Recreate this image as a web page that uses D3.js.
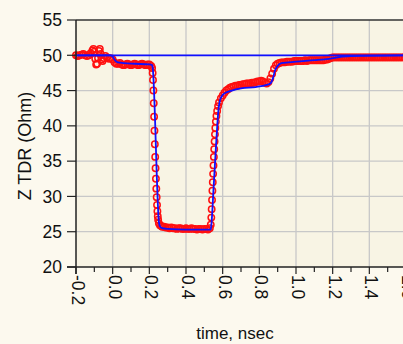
<!DOCTYPE html>
<html>
<head>
<meta charset="utf-8">
<script src="https://cdn.jsdelivr.net/npm/d3@7"></script>
<style>
  html, body { margin: 0; padding: 0; background: #fcf9ee; }
  svg { display: block; font-family: "Liberation Sans", Arial, sans-serif; }
</style>
</head>
<body>
<div id="canvas"></div>
<script>
// tick values and labels
var xTicks = [-0.2, 0.0, 0.2, 0.4, 0.6, 0.8, 1.0, 1.2, 1.4, 1.6];
var xTickLabels = ["-0.2", "0.0", "0.2", "0.4", "0.6", "0.8", "1.0", "1.2", "1.4", "1.6"];
var xMinorTicks = [-0.1, 0.1, 0.3, 0.5, 0.7, 0.9, 1.1, 1.3, 1.5];
var yTicks = [20, 25, 30, 35, 40, 45, 50, 55];
var yTickLabels = ["20", "25", "30", "35", "40", "45", "50", "55"];

// reference impedance line
var refLevel = 50;

// measured TDR (red circles): time in nsec, impedance in Ohm
var measT = [-0.20, -0.19, -0.18, -0.17, -0.16, -0.15, -0.14, -0.13, -0.12, -0.11, -0.105, -0.10, -0.095, -0.09, -0.085,
  -0.08, -0.075, -0.07, -0.065, -0.06, -0.055, -0.05, -0.04, -0.03, -0.02, -0.01, 0.00, 0.01, 0.02, 0.03,
  0.04, 0.05, 0.06, 0.07, 0.08, 0.09, 0.10, 0.11, 0.12, 0.13, 0.14, 0.15, 0.16, 0.17, 0.18,
  0.19, 0.20, 0.21, 0.215, 0.218, 0.220, 0.222, 0.224, 0.226, 0.228, 0.230, 0.232, 0.234, 0.236, 0.238,
  0.240, 0.242, 0.244, 0.246, 0.248, 0.252, 0.258, 0.265, 0.27, 0.28, 0.29, 0.30, 0.31, 0.32, 0.33,
  0.34, 0.35, 0.36, 0.37, 0.38, 0.39, 0.40, 0.41, 0.42, 0.43, 0.44, 0.45, 0.46, 0.47, 0.48,
  0.49, 0.50, 0.51, 0.52, 0.53, 0.535, 0.538, 0.540, 0.542, 0.544, 0.546, 0.548, 0.550, 0.552, 0.554,
  0.556, 0.558, 0.560, 0.563, 0.566, 0.570, 0.575, 0.58, 0.59, 0.60, 0.61, 0.62, 0.63, 0.64, 0.65,
  0.66, 0.67, 0.68, 0.69, 0.70, 0.71, 0.72, 0.73, 0.74, 0.75, 0.76, 0.77, 0.78, 0.79, 0.80,
  0.81, 0.82, 0.83, 0.84, 0.85, 0.86, 0.87, 0.88, 0.89, 0.90, 0.91, 0.92, 0.93, 0.94, 0.95,
  0.96, 0.97, 0.98, 0.99, 1.00, 1.01, 1.02, 1.03, 1.04, 1.05, 1.06, 1.07, 1.08, 1.09, 1.10,
  1.11, 1.12, 1.13, 1.14, 1.15, 1.16, 1.17, 1.18, 1.19, 1.20, 1.21, 1.22, 1.23, 1.24, 1.25,
  1.26, 1.27, 1.28, 1.29, 1.30, 1.31, 1.32, 1.33, 1.34, 1.35, 1.36, 1.37, 1.38, 1.39, 1.40,
  1.41, 1.42, 1.43, 1.44, 1.45, 1.46, 1.47, 1.48, 1.49, 1.50, 1.51, 1.52, 1.53, 1.54, 1.55,
  1.56, 1.57, 1.58, 1.59, 1.60, 1.61];
var measZ = [50.0, 49.9, 50.0, 50.1, 50.2, 50.0, 49.9, 50.0, 50.3, 50.7, 50.9, 50.5, 49.5, 48.7, 48.8,
  49.6, 50.6, 50.9, 50.2, 49.4, 49.2, 49.6, 49.9, 49.7, 49.5, 49.6, 49.4, 49.0, 48.8, 48.8,
  48.9, 48.7, 48.6, 48.7, 48.8, 48.7, 48.6, 48.7, 48.8, 48.7, 48.6, 48.7, 48.8, 48.7, 48.6,
  48.7, 48.7, 48.5, 48.2, 47.5, 46.5, 45.0, 43.2, 41.3, 39.3, 37.4, 35.6, 34.0, 32.5, 31.1,
  29.9, 28.8, 27.9, 27.2, 26.7, 26.2, 25.9, 25.8, 25.7, 25.7, 25.6, 25.6, 25.5, 25.6, 25.5,
  25.5, 25.4, 25.5, 25.5, 25.4, 25.4, 25.5, 25.4, 25.4, 25.5, 25.4, 25.4, 25.3, 25.4, 25.4,
  25.3, 25.4, 25.4, 25.3, 25.5, 26.0, 27.0, 28.2, 29.5, 30.8, 32.0, 33.2, 34.4, 35.6, 36.7,
  37.8, 38.8, 39.7, 40.6, 41.4, 42.1, 42.8, 43.3, 43.9, 44.3, 44.7, 45.0, 45.2, 45.4, 45.5,
  45.6, 45.7, 45.7, 45.8, 45.8, 45.9, 45.9, 46.0, 46.0, 46.0, 46.1, 46.1, 46.2, 46.3, 46.3,
  46.4, 46.3, 46.1, 46.0, 46.2, 46.7, 47.4, 48.1, 48.6, 48.8, 48.9, 49.0, 49.0, 49.0, 49.1,
  49.1, 49.1, 49.1, 49.2, 49.2, 49.2, 49.2, 49.2, 49.2, 49.3, 49.2, 49.3, 49.3, 49.3, 49.3,
  49.3, 49.3, 49.3, 49.3, 49.3, 49.4, 49.4, 49.5, 49.6, 49.7, 49.7, 49.7, 49.7, 49.7, 49.7,
  49.7, 49.7, 49.7, 49.7, 49.7, 49.7, 49.7, 49.7, 49.7, 49.7, 49.7, 49.7, 49.7, 49.7, 49.7,
  49.7, 49.7, 49.7, 49.7, 49.7, 49.7, 49.7, 49.7, 49.7, 49.7, 49.7, 49.7, 49.7, 49.7, 49.7,
  49.7, 49.7, 49.7, 49.7, 49.7, 49.7];

// simulated TDR (blue line)
var simT = [-0.20, -0.01, 0.00, 0.01, 0.02, 0.03, 0.06, 0.12, 0.20, 0.215, 0.218, 0.253, 0.26, 0.27, 0.30,
  0.40, 0.535, 0.540, 0.550, 0.560, 0.570, 0.578, 0.585, 0.595, 0.61, 0.65, 0.70, 0.78, 0.84, 0.86,
  0.875, 0.885, 0.90, 0.92, 0.96, 1.00, 1.10, 1.18, 1.25, 1.30, 1.61];
var simZ = [50.0, 50.0, 49.8, 49.4, 49.1, 49.0, 48.9, 48.8, 48.7, 48.6, 48.3, 26.2, 25.7, 25.5, 25.4,
  25.3, 25.3, 26.5, 31.0, 35.5, 39.8, 42.5, 43.6, 44.2, 44.6, 45.0, 45.3, 45.5, 45.8, 46.0,
  46.8, 47.8, 48.5, 48.9, 49.0, 49.1, 49.3, 49.5, 49.8, 49.9, 50.0];

var width = 403, height = 344;
var plotLeft = 76, plotTop = 20, plotBottom = 267, plotRight = 406;

var svg = d3.select("#canvas").append("svg")
  .attr("width", width)
  .attr("height", height);

var xScale = d3.scaleLinear().domain([-0.2, 1.6]).range([plotLeft, plotRight]);
var yScale = d3.scaleLinear().domain([20, 55]).range([plotBottom, plotTop]);

// plot area background
svg.append("rect")
  .attr("x", plotLeft).attr("y", plotTop)
  .attr("width", plotRight - plotLeft).attr("height", plotBottom - plotTop)
  .attr("fill", "#f8f4e4");

// grid lines
svg.append("g").selectAll("line").data(xTicks.slice(1)).enter().append("line")
  .attr("x1", function(d){ return xScale(d); })
  .attr("x2", function(d){ return xScale(d); })
  .attr("y1", plotTop).attr("y2", plotBottom)
  .attr("stroke", "#c8c8c8").attr("stroke-width", 1.3);
svg.append("g").selectAll("line").data(yTicks.slice(1, -1)).enter().append("line")
  .attr("x1", plotLeft).attr("x2", plotRight)
  .attr("y1", function(d){ return yScale(d); })
  .attr("y2", function(d){ return yScale(d); })
  .attr("stroke", "#c8c8c8").attr("stroke-width", 1.3);

// top frame
svg.append("line")
  .attr("x1", plotLeft).attr("x2", plotRight)
  .attr("y1", plotTop).attr("y2", plotTop)
  .attr("stroke", "#333").attr("stroke-width", 1.5);

// measured points
var measData = measT.map(function(t, i){ return [t, measZ[i]]; });
svg.append("g").selectAll("circle").data(measData).enter().append("circle")
  .attr("cx", function(d){ return xScale(d[0]); })
  .attr("cy", function(d){ return yScale(d[1]); })
  .attr("r", 3.2)
  .attr("fill", "none")
  .attr("stroke", "#ff1010")
  .attr("stroke-width", 1.5);

// reference line at 50 Ohm
svg.append("line")
  .attr("x1", plotLeft).attr("x2", plotRight)
  .attr("y1", yScale(refLevel)).attr("y2", yScale(refLevel))
  .attr("stroke", "#1010ff").attr("stroke-width", 1.8);

// simulated curve
var simData = simT.map(function(t, i){ return [t, simZ[i]]; });
var genLine = d3.line()
  .x(function(d){ return xScale(d[0]); })
  .y(function(d){ return yScale(d[1]); })
  .curve(d3.curveMonotoneX);
svg.append("path")
  .attr("d", genLine(simData))
  .attr("fill", "none")
  .attr("stroke", "#1010ff")
  .attr("stroke-width", 1.8);

// x axis
var xAxis = svg.append("g");
xAxis.append("line")
  .attr("x1", plotLeft - 9).attr("x2", plotRight)
  .attr("y1", plotBottom).attr("y2", plotBottom)
  .attr("stroke", "#222").attr("stroke-width", 1.5);
xAxis.selectAll(".major").data(xTicks).enter().append("line")
  .attr("x1", function(d){ return xScale(d); })
  .attr("x2", function(d){ return xScale(d); })
  .attr("y1", plotBottom).attr("y2", plotBottom + 7)
  .attr("stroke", "#222").attr("stroke-width", 1.2);
xAxis.selectAll(".minor").data(xMinorTicks).enter().append("line")
  .attr("x1", function(d){ return xScale(d); })
  .attr("x2", function(d){ return xScale(d); })
  .attr("y1", plotBottom).attr("y2", plotBottom + 5)
  .attr("stroke", "#222").attr("stroke-width", 1.2);
xAxis.selectAll("text").data(xTicks).enter().append("text")
  .attr("transform", function(d){ return "translate(" + (xScale(d) + 2) + "," + (plotBottom + 8) + ") rotate(90)"; })
  .attr("dy", "0.35em")
  .attr("font-size", 17.5)
  .attr("fill", "#111")
  .text(function(d, i){ return xTickLabels[i]; });

// y axis
var yAxis = svg.append("g");
yAxis.append("line")
  .attr("x1", plotLeft).attr("x2", plotLeft)
  .attr("y1", plotTop).attr("y2", plotBottom + 7)
  .attr("stroke", "#222").attr("stroke-width", 1.5);
yAxis.selectAll("line.tick").data(yTicks).enter().append("line")
  .attr("x1", plotLeft - 9).attr("x2", plotLeft)
  .attr("y1", function(d){ return yScale(d); })
  .attr("y2", function(d){ return yScale(d); })
  .attr("stroke", "#222").attr("stroke-width", 1.2);
yAxis.selectAll("text").data(yTicks).enter().append("text")
  .attr("x", plotLeft - 14)
  .attr("y", function(d){ return yScale(d); })
  .attr("dy", "0.36em")
  .attr("text-anchor", "end")
  .attr("font-size", 17.5)
  .attr("fill", "#111")
  .text(function(d, i){ return yTickLabels[i]; });

// axis titles
svg.append("text")
  .attr("x", 235).attr("y", 339)
  .attr("text-anchor", "middle")
  .attr("font-size", 17)
  .attr("fill", "#111")
  .text("time, nsec");
svg.append("text")
  .attr("transform", "translate(31,146) rotate(-90)")
  .attr("text-anchor", "middle")
  .attr("font-size", 18)
  .attr("fill", "#111")
  .text("Z TDR (Ohm)");
</script>
</body>
</html>
